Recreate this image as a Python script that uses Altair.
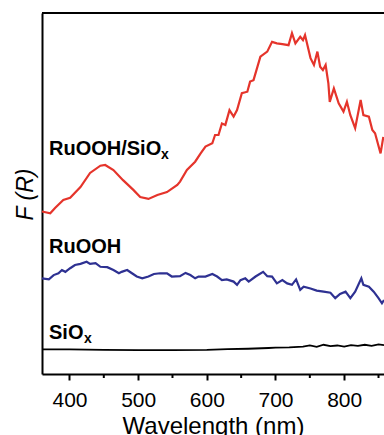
import altair as alt
import pandas as pd

# --- data ---
red_wl = [360,372,379,391,401,416,430,445,452,464,478,493,503,515,528,542,557,561,571,583,591,598,608,612,617,622,627,633,639,644,651,659,663,668,678,688,695,702,710,719,724,729,736,740,743,751,756,761,765,769,773,777,779,785,792,799,804,809,816,824,828,836,841,845,853,857]
red_val = [45.0,44.5,46.0,48.2,48.8,51.8,55.7,57.7,57.9,56.5,53.7,51.0,49.0,48.5,49.6,50.4,52.4,53.3,56.5,58.8,61.1,63.0,63.9,66.2,66.2,69.4,69.0,73.1,71.3,73.1,77.8,78.2,81.0,81.4,87.9,89.3,92.0,91.6,91.4,91.1,94.4,91.6,93.4,92.5,93.9,87.5,85.6,89.3,85.1,84.2,85.6,80.5,75.4,79.1,75.0,72.7,75.4,71.7,68.1,75.9,71.7,71.3,67.6,66.7,61.1,65.7]

blue_wl = [360,370,377,384,389,394,401,408,416,425,430,438,445,455,464,472,476,484,491,498,506,515,523,532,542,549,561,569,576,583,588,598,608,615,622,629,639,644,649,656,661,671,682,688,695,702,710,717,724,730,736,741,751,760,770,780,787,794,802,809,816,825,828,836,843,850,855,858]
blue_val = [26.5,26.2,27.4,27.9,28.8,28.3,29.3,30.2,30.5,31.1,30.5,30.7,29.7,29.6,28.8,27.9,28.3,28.8,27.9,27.0,26.5,27.0,27.7,27.9,27.9,27.0,27.1,28.0,27.4,26.5,27.0,27.0,27.7,27.0,26.0,26.2,25.6,24.7,26.0,26.5,25.6,27.0,28.3,27.1,27.0,25.1,26.0,25.1,24.7,26.2,23.3,24.2,23.7,23.1,22.8,22.5,21.0,22.2,22.8,21.0,22.8,26.5,24.7,24.2,22.8,21.0,19.6,20.5]

black_wl = [360,400,450,500,550,600,630,660,690,700,720,740,750,760,770,780,790,800,810,820,830,840,850,858]
black_val = [6.8,6.8,6.7,6.6,6.6,6.7,6.9,7.0,7.2,7.3,7.4,7.6,7.9,7.5,8.1,7.7,7.9,7.6,8.0,7.8,8.1,7.8,8.2,8.0]

major_ticks = [400, 500, 600, 700, 800]
minor_ticks = [450, 550, 650, 750, 850]
x_domain = [360, 858]
y_domain = [0, 100]

FONT = "Liberation Sans"

red_df = pd.DataFrame({"wl": red_wl, "F": red_val})
blue_df = pd.DataFrame({"wl": blue_wl, "F": blue_val})
black_df = pd.DataFrame({"wl": black_wl, "F": black_val})
minor_df = pd.DataFrame({"wl": minor_ticks})

xs = alt.Scale(domain=x_domain, nice=False, zero=False)
ys = alt.Scale(domain=y_domain, nice=False, zero=False)

major_axis = alt.Axis(orient="bottom", values=major_ticks, title="Wavelength (nm)", grid=False,
                      domainColor="black", domainWidth=2, tickColor="black",
                      tickWidth=2, tickSize=6, labelFont=FONT, labelFontSize=21,
                      labelColor="black", labelBaseline="alphabetic", labelPadding=26,
                      titleFont=FONT, titleFontSize=24, titleFontWeight="normal",
                      titleColor="black", titleBaseline="alphabetic", titleY=59)
y_axis = alt.Axis(orient="left", labels=False, ticks=False, grid=False, title="F (R)",
                  domainColor="black", domainWidth=2, titleFont=FONT,
                  titleFontSize=23, titleFontWeight="normal", titleFontStyle="italic",
                  titleColor="black", titleAngle=270, titleBaseline="alphabetic",
                  titleAlign="center", titleX=-10, titleY=181)

red = alt.Chart(red_df).mark_line(color="#e5342b", strokeWidth=2.2).encode(
    x=alt.X("wl:Q", scale=xs, axis=major_axis),
    y=alt.Y("F:Q", scale=ys, axis=y_axis))
blue = alt.Chart(blue_df).mark_line(color="#2e3192", strokeWidth=2.2).encode(
    x=alt.X("wl:Q", scale=xs, axis=None),
    y=alt.Y("F:Q", scale=ys, axis=None))
black = alt.Chart(black_df).mark_line(color="black", strokeWidth=1.8).encode(
    x=alt.X("wl:Q", scale=xs, axis=None),
    y=alt.Y("F:Q", scale=ys, axis=None))

# minor ticks (outward, shorter than the major ones)
minor = alt.Chart(minor_df).mark_rule(color="black", strokeWidth=2).encode(
    x=alt.X("wl:Q", scale=xs, axis=None),
    y=alt.value(361), y2=alt.value(365))

top_border = alt.Chart(pd.DataFrame({"a": [0]})).mark_rule(color="black", strokeWidth=2).encode(
    x=alt.value(0), x2=alt.value(342), y=alt.value(0))

def label(txt, x, y, size, dy=0):
    return alt.Chart(pd.DataFrame({"a": [0]})).mark_text(
        font=FONT, fontSize=size, fontWeight="bold", color="black",
        align="left", baseline="alphabetic", dy=dy).encode(
        x=alt.value(x), y=alt.value(y), text=alt.value(txt))

labels = [
    label("RuOOH/SiO", 7, 142, 20),
    label("x", 119, 142, 14, 4),
    label("RuOOH", 7, 240, 20),
    label("SiO", 7, 326, 20),
    label("x", 42, 326, 14, 4),
]

chart = alt.layer(red, blue, black, minor, top_border, *labels).resolve_axis(
    x="independent", y="independent").properties(
    width=342, height=361,
    autosize=alt.AutoSizeParams(type="none"),
    padding={"left": 42, "top": 13, "right": 0, "bottom": 61},
).configure_view(strokeOpacity=0)

chart.save("out.html", embed_options={"renderer": "svg", "actions": False})
